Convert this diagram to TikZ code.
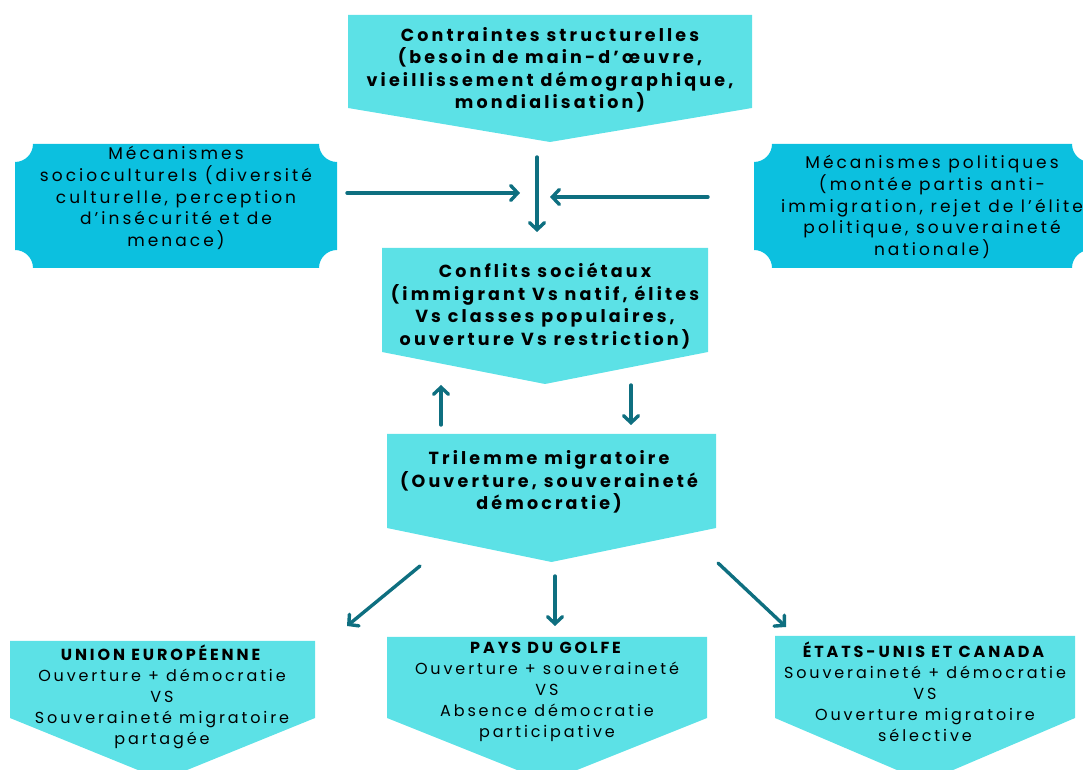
\documentclass[tikz,border=0pt]{standalone}
\usepackage{fontspec}
\setmainfont{Poppins}[LetterSpace=18]
\usetikzlibrary{arrows.meta}
\definecolor{lightcyan}{HTML}{5CE1E6}
\definecolor{midcyan}{HTML}{0CC0DF}
\definecolor{arrowteal}{HTML}{0E6F80}
\newcommand{\scoopbox}[5]{% L B R T r
  \fill[midcyan] ({#1+#5},#4) -- ({#3-#5},#4) arc[start angle=180,end angle=270,radius=#5]
  -- (#3,{#2+#5}) arc[start angle=90,end angle=180,radius=#5]
  -- ({#1+#5},#2) arc[start angle=0,end angle=90,radius=#5]
  -- (#1,{#4-#5}) arc[start angle=270,end angle=360,radius=#5] -- cycle;}
\newcommand{\pentabox}[5]{% L R T side tipy
  \fill[lightcyan] (#1,#3) -- (#2,#3) -- (#2,#4) -- ({(#1+#2)/2},#5) -- (#1,#4) -- cycle;}
\tikzset{
  flow/.style={draw=arrowteal, line width=3.4pt, -{Straight Barb[length=7pt,width=15pt,line cap=round]}, line cap=round},
  titletext/.style={align=center, font=\fontsize{17.5}{22.5}\selectfont\bfseries, inner sep=0pt},
  sidetext/.style={align=center, font=\fontsize{17}{21.6}\selectfont, inner sep=0pt},
  bottext/.style={align=center, font=\fontsize{16}{21}\selectfont, inner sep=0pt},
}
\begin{document}
\begin{tikzpicture}[x=1pt,y=1pt]
\useasboundingbox (0,0) rectangle (1083,770);
\clip (0,0) rectangle (1083,770);
% shapes
\pentabox{348}{752}{755}{662}{628}
\scoopbox{15}{502}{337}{626}{18}
\scoopbox{754}{502}{1090}{626}{18}
\pentabox{382}{708}{522}{418}{386}
\pentabox{387}{716}{336}{242}{208}
\pentabox{10}{315}{129}{52}{-10}
\pentabox{387}{707}{133}{52}{-12}
\pentabox{775}{1075}{134}{52}{-12}
% texts
\node[titletext] (contraintes) at (550,700) {Contraintes structurelles\\(besoin de main-d’œuvre,\\vieillissement démographique,\\mondialisation)};
\node[sidetext] (socio) at (176,572) {Mécanismes\\socioculturels (diversité\\culturelle, perception\\d’insécurité et de\\menace)};
\node[sidetext] (politiques) at (932,563) {Mécanismes politiques\\(montée partis anti-\\immigration, rejet de l’élite\\politique, souveraineté\\nationale)};
\node[titletext] (conflits) at (545,464) {Conflits sociétaux\\(immigrant Vs natif, élites\\Vs classes populaires,\\ouverture Vs restriction)};
\node[titletext] (trilemme) at (549,288) {Trilemme migratoire\\(Ouverture, souveraineté\\démocratie)};
\node[bottext] (ue) at (162,73) {\textbf{UNION EUROPÉENNE}\\Ouverture + démocratie\\VS\\Souveraineté migratoire\\partagée};
\node[bottext] (golfe) at (547,78) {\textbf{PAYS DU  GOLFE}\\Ouverture + souveraineté\\VS\\Absence démocratie\\participative};
\node[bottext] (usa) at (925,78) {\textbf{ÉTATS-UNIS ET CANADA}\\Souveraineté + démocratie\\VS\\Ouverture migratoire\\sélective};
% connector endpoints
\coordinate (a1s) at (347,577); \coordinate (a1e) at (520,577);
\coordinate (a2s) at (708,573); \coordinate (a2e) at (550,573);
\coordinate (a3s) at (537,613); \coordinate (a3e) at (537,538);
\coordinate (a4s) at (441,345); \coordinate (a4e) at (441,385);
\coordinate (a5s) at (631,385); \coordinate (a5e) at (631,345);
\coordinate (a6s) at (420,204); \coordinate (a6e) at (347,144);
\coordinate (a7s) at (555,194); \coordinate (a7e) at (555,144);
\coordinate (a8s) at (718,207); \coordinate (a8e) at (786,143);
\draw[flow] (a1s) -- (a1e);
\draw[flow] (a2s) -- (a2e);
\draw[flow] (a3s) -- (a3e);
\draw[flow] (a4s) -- (a4e);
\draw[flow] (a5s) -- (a5e);
\draw[flow] (a6s) -- (a6e);
\draw[flow] (a7s) -- (a7e);
\draw[flow] (a8s) -- (a8e);
\end{tikzpicture}
\end{document}
